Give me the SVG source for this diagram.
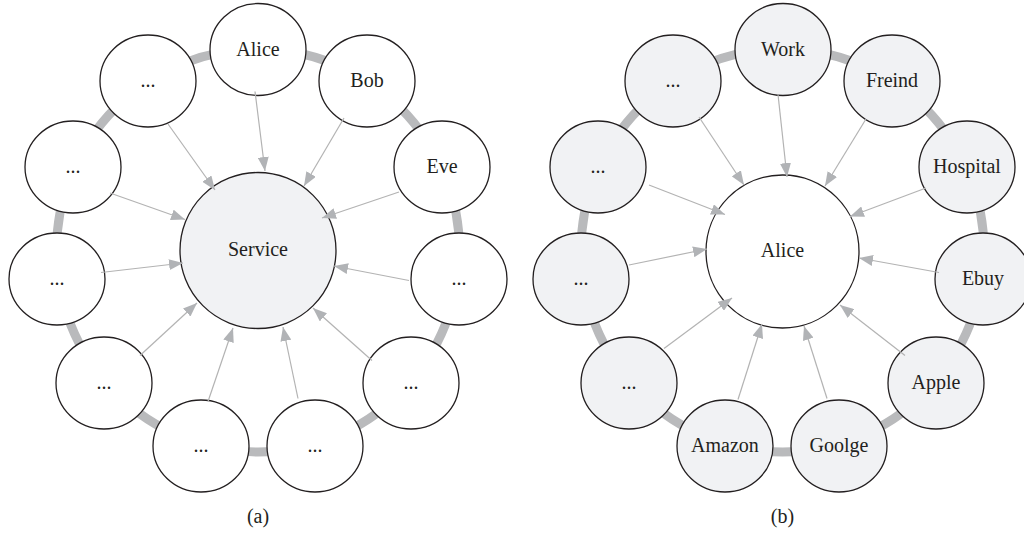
<svg xmlns="http://www.w3.org/2000/svg" width="1024" height="535" viewBox="0 0 1024 535">
<style>
.ring{fill:none;stroke:#b9babc;stroke-width:9}
.n{stroke:#231f20;stroke-width:1.3}
.w{fill:#ffffff}
.g{fill:#f1f2f4}
.t{font-family:"Liberation Serif","Times New Roman",serif;font-size:20px;fill:#231f20;text-anchor:middle}
.a{stroke:#b3b3b3;stroke-width:1.2;fill:none;marker-end:url(#ah)}
</style>
<defs>
<marker id="ah" markerUnits="userSpaceOnUse" markerWidth="14" markerHeight="11" refX="14" refY="5.5" orient="auto">
<path d="M0,0 L14,5.5 L0,11 Z" fill="#b1b3b6"/>
</marker>
</defs>
<rect width="1024" height="535" fill="#ffffff"/>
<g id="connectors">
<circle class="ring" cx="258" cy="250.5" r="201.5"/>
<circle class="ring" cx="782.5" cy="250.5" r="201.5"/>
</g>
<g id="diagram-a">
<g id="a-service"><circle class="n g" cx="258" cy="250.5" r="78"/><text class="t" x="258" y="256">Service</text></g>
<g id="a-alice"><ellipse class="n w" cx="258" cy="49.5" rx="48" ry="46"/><text class="t" x="258" y="55.5">Alice</text></g>
<g id="a-bob"><ellipse class="n w" cx="367" cy="81" rx="48" ry="46"/><text class="t" x="367" y="87">Bob</text></g>
<g id="a-eve"><ellipse class="n w" cx="442" cy="167" rx="48" ry="46"/><text class="t" x="442" y="173">Eve</text></g>
<g id="a-n3"><ellipse class="n w" cx="459" cy="279" rx="48" ry="46"/><text class="t" x="459" y="285">...</text></g>
<g id="a-n4"><ellipse class="n w" cx="411" cy="383" rx="48" ry="46"/><text class="t" x="411" y="389">...</text></g>
<g id="a-n5"><ellipse class="n w" cx="315" cy="446" rx="48" ry="46"/><text class="t" x="315" y="452">...</text></g>
<g id="a-n6"><ellipse class="n w" cx="201" cy="446" rx="48" ry="46"/><text class="t" x="201" y="452">...</text></g>
<g id="a-n7"><ellipse class="n w" cx="104" cy="383" rx="48" ry="46"/><text class="t" x="104" y="389">...</text></g>
<g id="a-n8"><ellipse class="n w" cx="57" cy="279" rx="48" ry="46"/><text class="t" x="57" y="285">...</text></g>
<g id="a-n9"><ellipse class="n w" cx="73" cy="167" rx="48" ry="46"/><text class="t" x="73" y="173">...</text></g>
<g id="a-n10"><ellipse class="n w" cx="148" cy="81" rx="48" ry="46"/><text class="t" x="148" y="87">...</text></g>
<text class="t" x="258" y="523">(a)</text>
</g>
<g id="diagram-b">
<g id="b-alice"><circle class="n w" cx="782.5" cy="251.5" r="76.5"/><text class="t" x="782.5" y="257">Alice</text></g>
<g id="b-work"><ellipse class="n g" cx="783" cy="49.5" rx="48" ry="46"/><text class="t" x="783" y="55.5">Work</text></g>
<g id="b-freind"><ellipse class="n g" cx="892" cy="81" rx="48" ry="46"/><text class="t" x="892" y="87">Freind</text></g>
<g id="b-hospital"><ellipse class="n g" cx="967" cy="167" rx="48" ry="46"/><text class="t" x="967" y="173">Hospital</text></g>
<g id="b-ebuy"><ellipse class="n g" cx="983" cy="279" rx="48" ry="46"/><text class="t" x="983" y="285">Ebuy</text></g>
<g id="b-apple"><ellipse class="n g" cx="936" cy="383" rx="48" ry="46"/><text class="t" x="936" y="389">Apple</text></g>
<g id="b-goolge"><ellipse class="n g" cx="839" cy="446" rx="48" ry="46"/><text class="t" x="839" y="452">Goolge</text></g>
<g id="b-amazon"><ellipse class="n g" cx="725" cy="446" rx="48" ry="46"/><text class="t" x="725" y="452">Amazon</text></g>
<g id="b-n7"><ellipse class="n g" cx="629" cy="383" rx="48" ry="46"/><text class="t" x="629" y="389">...</text></g>
<g id="b-n8"><ellipse class="n g" cx="581" cy="279" rx="48" ry="46"/><text class="t" x="581" y="285">...</text></g>
<g id="b-n9"><ellipse class="n g" cx="598" cy="167" rx="48" ry="46"/><text class="t" x="598" y="173">...</text></g>
<g id="b-n10"><ellipse class="n g" cx="673" cy="81" rx="48" ry="46"/><text class="t" x="673" y="87">...</text></g>
<text class="t" x="782.5" y="523">(b)</text>
</g>
<g id="arrows">
<line class="a" x1="255" y1="91.5" x2="265" y2="171"/>
<line class="a" x1="344" y1="118" x2="304" y2="186"/>
<line class="a" x1="399" y1="192" x2="322" y2="218"/>
<line class="a" x1="409" y1="280.5" x2="334" y2="266"/>
<line class="a" x1="372" y1="360.5" x2="313" y2="308"/>
<line class="a" x1="298" y1="398.5" x2="283" y2="327"/>
<line class="a" x1="208" y1="401.5" x2="233" y2="328"/>
<line class="a" x1="140" y1="355.5" x2="197" y2="303"/>
<line class="a" x1="101" y1="272.5" x2="183" y2="263"/>
<line class="a" x1="110" y1="193" x2="185" y2="219.5"/>
<line class="a" x1="168" y1="124" x2="215" y2="190"/>
<line class="a" x1="778" y1="94.5" x2="787" y2="177"/>
<line class="a" x1="866" y1="119" x2="825" y2="186"/>
<line class="a" x1="926" y1="188" x2="850" y2="216.5"/>
<line class="a" x1="939" y1="272.5" x2="859" y2="258"/>
<line class="a" x1="905" y1="355.5" x2="840" y2="305"/>
<line class="a" x1="827" y1="398.5" x2="804" y2="326"/>
<line class="a" x1="738" y1="399.5" x2="762" y2="324"/>
<line class="a" x1="664" y1="348.5" x2="732" y2="298"/>
<line class="a" x1="629" y1="265" x2="707" y2="249"/>
<line class="a" x1="649" y1="185" x2="725" y2="214.5"/>
<line class="a" x1="699" y1="117" x2="744" y2="185"/>
</g>
</svg>
